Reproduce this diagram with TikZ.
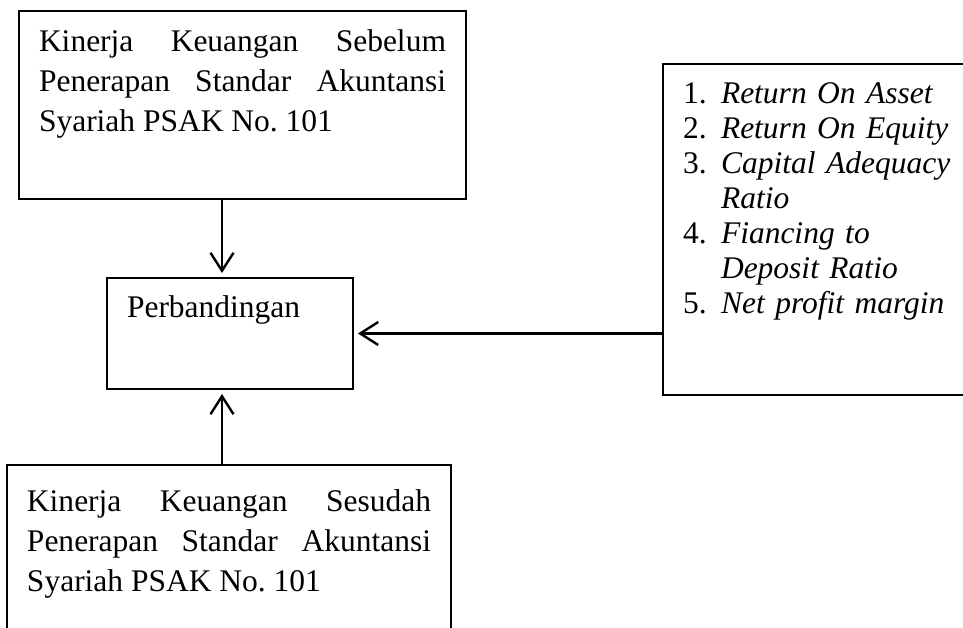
\documentclass[tikz,border=0pt]{standalone}
\usepackage{fontspec}
\setmainfont{Liberation Serif}
\usetikzlibrary{arrows.meta}

\tikzset{
  kotak/.style={draw, line width=1.3pt, anchor=north west, outer sep=0pt,
    inner xsep=20pt, inner ysep=0pt, align=justify,
    font=\fontsize{31.5}{40}\selectfont},
  panah/.style={-{Straight Barb[length=18pt,width=23pt,line width=2.4pt]},
    line width=2.4pt, shorten >=5pt}
}

\begin{document}
\begin{tikzpicture}[x=1pt,y=1pt]
		\clip (0,0) rectangle (963,-628);
		
		\node[kotak, text width=407pt, text height=41pt, text depth=147pt] (sebelum) at (19,-11)
			{Kinerja Keuangan Sebelum\linebreak Penerapan Standar Akuntansi\linebreak Syariah PSAK No.~101};
		\node[kotak, text width=206pt, text height=39pt, text depth=72pt] (banding) at (107,-278) {Perbandingan};
		\node[kotak, text width=404pt, text height=46pt, text depth=140pt] (sesudah) at (7,-465)
			{Kinerja Keuangan Sesudah\linebreak Penerapan Standar Akuntansi\linebreak Syariah PSAK No.~101};
		\node[kotak, align=left, text width=290pt, text height=40pt, text depth=291pt,
			font=\fontsize{31.5}{35}\selectfont] (rasio) at (663,-64)
			{\begin{tabular}[t]{@{}p{38pt}@{}l@{}}
				1. & \textit{Return On Asset}\\
				2. & \textit{Return On Equity}\\
				3. & \textit{Capital Adequacy}\\
				   & \textit{Ratio}\\
				4. & \textit{Fiancing to}\\
				   & \textit{Deposit Ratio}\\
				5. & \textit{Net profit margin}
			\end{tabular}};
		
		\draw[panah] ([xshift=-20.5pt]sebelum.south) -- ([xshift=-8pt]banding.north);
		\draw[panah] ([xshift=-7pt]sesudah.north) -- ([xshift=-8pt]banding.south);
		\draw[panah] (rasio.west |- banding.east) -- (banding.east);
\end{tikzpicture}
\end{document}
